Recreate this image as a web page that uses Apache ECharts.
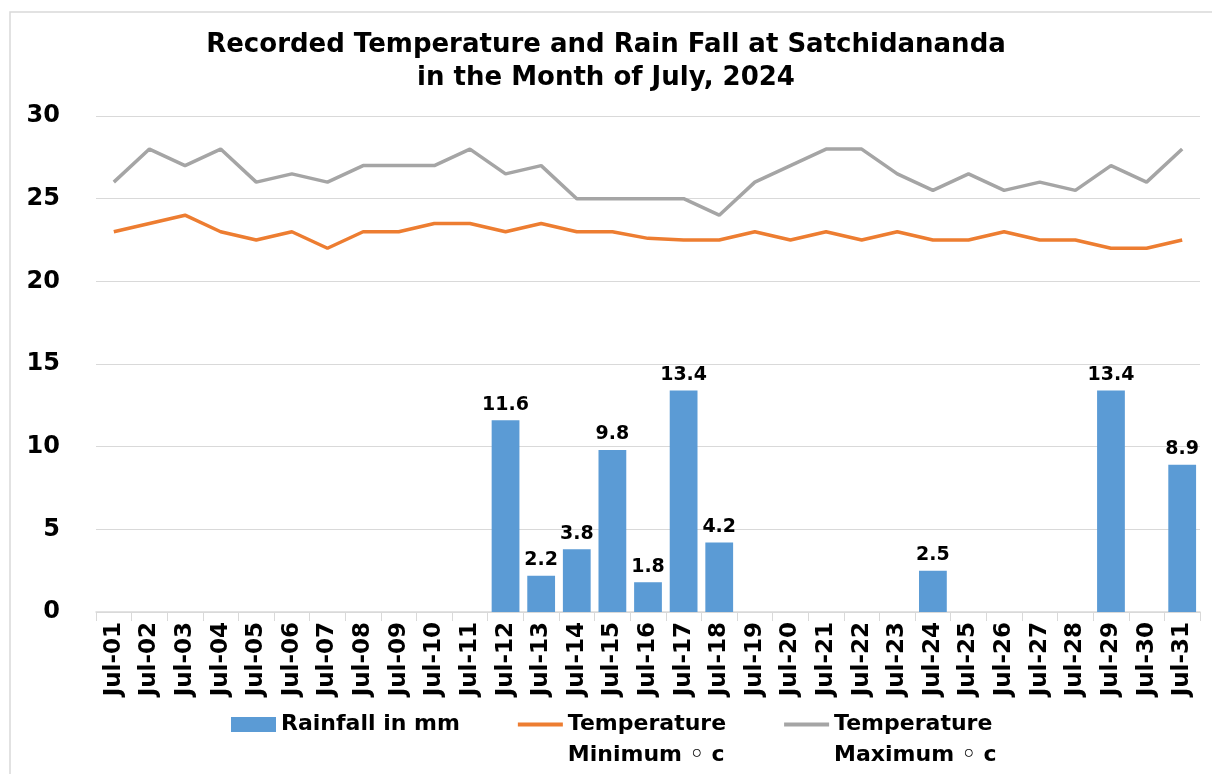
<!DOCTYPE html>
<html>
<head>
<meta charset="utf-8">
<script src="https://cdn.jsdelivr.net/npm/echarts@6/dist/echarts.min.js"></script>
<style>
  html, body { margin: 0; padding: 0; background: #fff; }
  #chart { width: 1212px; height: 774px; }
</style>
</head>
<body>
<div id="chart"></div>
<script>
// chart data
const days = ['Jul-01', 'Jul-02', 'Jul-03', 'Jul-04', 'Jul-05', 'Jul-06', 'Jul-07', 'Jul-08', 'Jul-09', 'Jul-10',
  'Jul-11', 'Jul-12', 'Jul-13', 'Jul-14', 'Jul-15', 'Jul-16', 'Jul-17', 'Jul-18', 'Jul-19', 'Jul-20',
  'Jul-21', 'Jul-22', 'Jul-23', 'Jul-24', 'Jul-25', 'Jul-26', 'Jul-27', 'Jul-28', 'Jul-29', 'Jul-30', 'Jul-31']
const rainfall = [0, 0, 0, 0, 0, 0, 0, 0, 0, 0,
  0, 11.6, 2.2, 3.8, 9.8, 1.8, 13.4, 4.2, 0, 0,
  0, 0, 0, 2.5, 0, 0, 0, 0, 13.4, 0, 8.9]
const tempMin = [23, 23.5, 24, 23, 22.5, 23, 22, 23, 23, 23.5,
  23.5, 23, 23.5, 23, 23, 22.6, 22.5, 22.5, 23, 22.5,
  23, 22.5, 23, 22.5, 22.5, 23, 22.5, 22.5, 22, 22, 22.5]
const tempMax = [26, 28, 27, 28, 26, 26.5, 26, 27, 27, 27,
  28, 26.5, 27, 25, 25, 25, 25, 24, 26, 27,
  28, 28, 26.5, 25.5, 26.5, 25.5, 26, 25.5, 27, 26, 28]

const font = 'DejaVu Sans'
const chart = echarts.init(document.getElementById('chart'))

chart.setOption({
  animation: false,
  title: {
    text: 'Recorded Temperature and Rain Fall at Satchidananda\nin the Month of July, 2024',
    left: 'center',
    top: 24,
    textStyle: {
      fontFamily: font,
      fontWeight: 'bold',
      fontSize: 26,
      lineHeight: 33,
      color: '#000'
    }
  },
  graphic: [{
    type: 'rect',
    shape: { x: 10, y: 12, width: 1220, height: 800 },
    style: { fill: 'none', stroke: '#d9d9d9', lineWidth: 1.5 },
    silent: true
  }],
  grid: {
    left: 96,
    right: 12,
    top: 116,
    bottom: 162
  },
  legend: {
    left: 226,
    top: 673,
    itemGap: 56,
    itemWidth: 45,
    itemHeight: 15,
    lineStyle: { width: 4 },
    textStyle: {
      fontFamily: font,
      fontWeight: 'bold',
      fontSize: 22,
      color: '#000',
      lineHeight: 31
    },
    data: [
      { name: 'Rainfall in mm', icon: 'rect' },
      { name: 'Temperature Minimum', itemStyle: { opacity: 0 } },
      { name: 'Temperature Maximum', itemStyle: { opacity: 0 } }
    ],
    formatter: function (name) {
      if (name === 'Temperature Minimum') return ' \nTemperature\nMinimum \u25e6 c'
      if (name === 'Temperature Maximum') return ' \nTemperature\nMaximum \u25e6 c'
      return name
    }
  },
  xAxis: {
    type: 'category',
    data: days,
    axisLine: { lineStyle: { color: '#d9d9d9', width: 1.5 } },
    axisTick: { show: true, length: 9, lineStyle: { color: '#d9d9d9' } },
    axisLabel: {
      rotate: 90,
      interval: 0,
      margin: 10,
      fontFamily: font,
      fontWeight: 'bold',
      fontSize: 23,
      color: '#000'
    }
  },
  yAxis: {
    type: 'value',
    min: 0,
    max: 30,
    interval: 5,
    axisLine: { show: false },
    axisTick: { show: false },
    splitLine: { lineStyle: { color: '#d9d9d9', width: 1.2 } },
    axisLabel: {
      margin: 36,
      fontFamily: font,
      fontWeight: 'bold',
      fontSize: 24,
      color: '#000'
    }
  },
  series: [
    {
      name: 'Rainfall in mm',
      type: 'bar',
      data: rainfall,
      barWidth: '78%',
      itemStyle: { color: '#5b9bd5' },
      label: {
        show: true,
        position: 'top',
        distance: 6,
        fontFamily: font,
        fontWeight: 'bold',
        fontSize: 19,
        color: '#000',
        formatter: function (p) { return p.value ? p.value.toFixed(1) : '' }
      }
    },
    {
      name: 'Temperature Minimum',
      type: 'line',
      data: tempMin,
      symbol: 'none',
      lineStyle: { color: '#ed7d31', width: 3.5 },
      itemStyle: { color: '#ed7d31' }
    },
    {
      name: 'Temperature Maximum',
      type: 'line',
      data: tempMax,
      symbol: 'none',
      lineStyle: { color: '#a5a5a5', width: 3.5 },
      itemStyle: { color: '#a5a5a5' }
    }
  ]
})
</script>
</body>
</html>
